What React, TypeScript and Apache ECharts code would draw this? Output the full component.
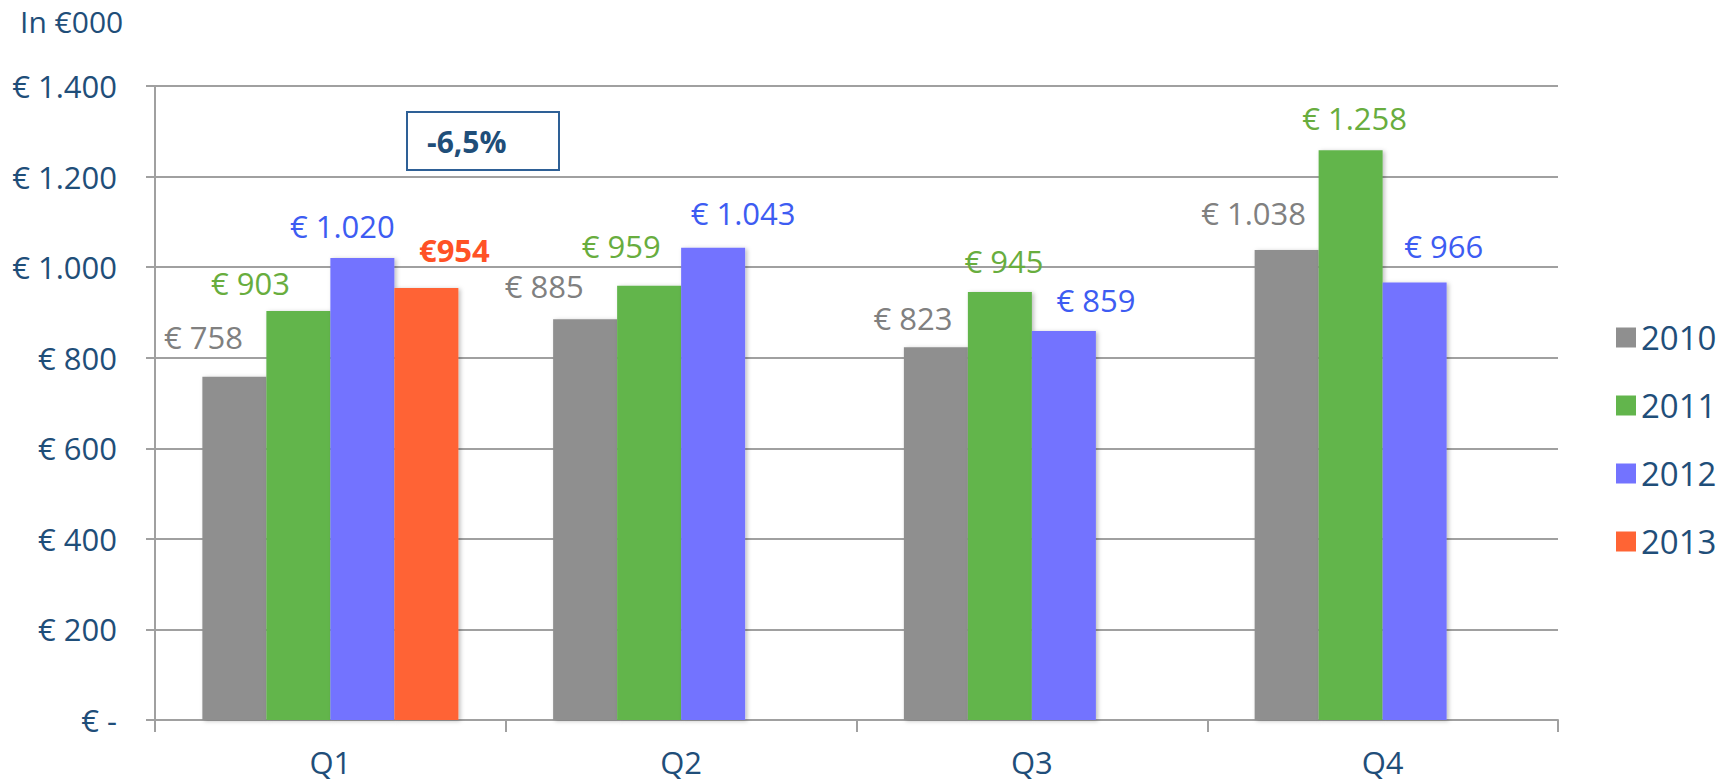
import React, { useEffect, useRef } from "react";
import * as echarts from "echarts";

const categories = ["Q1", "Q2", "Q3", "Q4"];
const seriesNames = ["2010", "2011", "2012", "2013"];
const values2010 = [758, 885, 823, 1038];
const values2011 = [903, 959, 945, 1258];
const values2012 = [1020, 1043, 859, 966];
const values2013 = [954, null, null, null];
const yTicks = [0, 200, 400, 600, 800, 1000, 1200, 1400];
const changeLabel = "-6,5%";
const unitLabel = "In €000";

// label nudges (styling only)
const labelNudges: number[][][] = [
  [[-31, -25], [-41, -18], [-23, -14], [-33, -22]],
  [[-48, -13], [-28, -25], [4, -16], [4, -17]],
  [[-20, -17], [30, -20], [32, -16], [29, -22]],
  [[28, -23], [0, 0], [0, 0], [0, 0]],
];

const barColors = ["#8f8f8f", "#62b54c", "#7373ff", "#ff6434"];
const labelColors = ["#808080", "#68ad3e", "#3d5cf2", "#ff5226"];
const textBlue = "#1f4e79";
const FONT = "'Open Sans', 'Noto Sans', sans-serif";

function fmt(v: number): string {
  if (v === 0) return "€ -";
  const s = String(Math.round(v));
  return "€ " + s.replace(/\B(?=(\d{3})+(?!\d))/g, ".");
}

export default function App() {
  const ref = useRef<HTMLDivElement>(null);
  useEffect(() => {
    if (!ref.current) return;
    const chart = echarts.init(ref.current, null, { renderer: "svg" });
    const all = [values2010, values2011, values2012, values2013];
    const series = all.map((vals, si) => ({
      name: seriesNames[si],
      type: "bar",
      barWidth: 64,
      barGap: "0%",
      itemStyle: {
        color: barColors[si],
        shadowBlur: 4,
        shadowColor: "rgba(0,0,0,0.25)",
        shadowOffsetX: 2,
        shadowOffsetY: 1,
      },
      label: {
        show: true,
        position: "top",
        distance: 0,
        fontFamily: FONT,
        fontSize: 31,
        lineHeight: 30,
        color: labelColors[si],
        fontWeight: si === 3 ? "bold" : "normal",
        formatter: (p: any) =>
          si === 3 ? "€" + p.value : fmt(p.value as number),
      },
      data: vals.map((v, ci) =>
        v === null
          ? null
          : { value: v, label: { offset: labelNudges[si][ci] } }
      ),
    }));

    chart.setOption({
      animation: false,
      backgroundColor: "#ffffff",
      textStyle: { fontFamily: FONT },
      grid: { left: 155, right: 173, top: 86, bottom: 64, containLabel: false },
      legend: {
        orient: "vertical",
        left: 1611,
        top: 316,
        itemWidth: 20,
        itemHeight: 20,
        itemGap: 35,
        icon: "rect",
        data: seriesNames,
        textStyle: { fontFamily: FONT, fontSize: 33, color: textBlue, padding: [0, 0, 0, 0] },
      },
      xAxis: {
        type: "category",
        data: categories,
        axisLine: { show: true, lineStyle: { color: "#a0a0a0", width: 2 } },
        axisTick: { show: true, length: 12, lineStyle: { color: "#a0a0a0", width: 2 } },
        axisLabel: { margin: 26, fontSize: 31, color: textBlue, fontFamily: FONT },
      },
      yAxis: {
        type: "value",
        min: yTicks[0],
        max: yTicks[yTicks.length - 1],
        interval: 200,
        axisLine: { show: true, lineStyle: { color: "#a0a0a0", width: 2 } },
        axisTick: { show: true, length: 9, lineStyle: { color: "#a0a0a0", width: 2 } },
        splitLine: { show: true, lineStyle: { color: "#a0a0a0", width: 2 } },
        axisLabel: {
          margin: 38,
          fontSize: 31,
          color: textBlue,
          fontFamily: FONT,
          formatter: (v: number) => fmt(v),
        },
      },
      graphic: [
        {
          type: "text",
          left: 20,
          top: 6,
          style: { text: unitLabel, fontSize: 30, fill: textBlue, fontFamily: FONT },
        },
        {
          type: "rect",
          shape: { x: 407, y: 112, width: 152, height: 58 },
          style: { fill: "#ffffff", stroke: "#2e6096", lineWidth: 2 },
        },
        {
          type: "text",
          x: 427,
          y: 141,
          style: {
            text: changeLabel,
            fontSize: 30,
            fontWeight: "bold",
            fill: textBlue,
            fontFamily: FONT,
            verticalAlign: "middle",
          },
        },
      ],
      series,
    });
    return () => chart.dispose();
  }, []);
  return (
    <div
      ref={ref}
      style={{ position: "fixed", left: 0, top: 0, width: 1731, height: 784 }}
    />
  );
}
